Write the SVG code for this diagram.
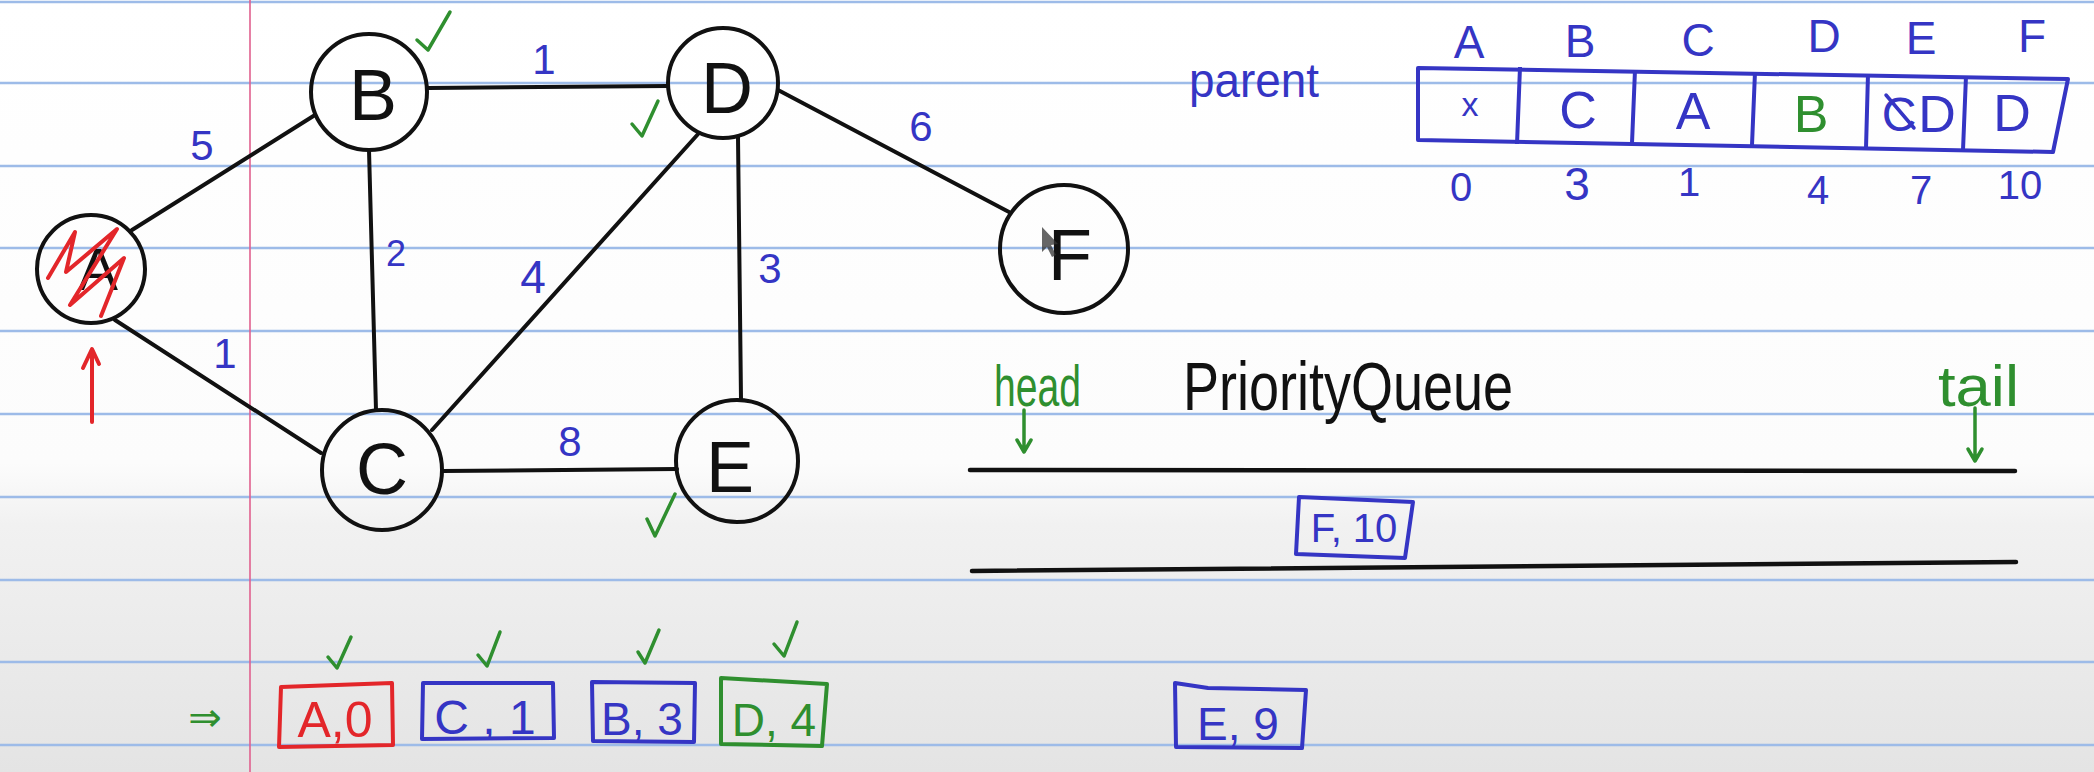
<svg xmlns="http://www.w3.org/2000/svg" width="2094" height="772" viewBox="0 0 2094 772">
  <defs>
    <linearGradient id="bg" x1="0" y1="0" x2="0" y2="1">
      <stop offset="0" stop-color="#ffffff"/>
      <stop offset="0.6" stop-color="#fcfcfc"/>
      <stop offset="0.68" stop-color="#f1f1f1"/>
      <stop offset="1" stop-color="#e4e4e4"/>
    </linearGradient>
    <style>
      .rule { stroke: #9dbbe8; stroke-width: 2.5; }
      .margin { stroke: #e0608e; stroke-width: 1.6; }
      .node { fill: none; stroke: #111; stroke-width: 4; }
      .edge { stroke: #111; stroke-width: 4; stroke-linecap: round; fill: none; }
      .nl { font-family: "Liberation Sans", "DejaVu Sans", sans-serif; fill: #111; text-anchor: middle; }
      .blue { fill: #3535c4; }
      .green { fill: #2f8f2f; }
      .red { fill: #e3262a; }
      .hand { font-family: "Liberation Sans", "DejaVu Sans", sans-serif; }
      .mid { text-anchor: middle; }
      .start { text-anchor: start; }
      .lbl { font-family: "Liberation Sans", "DejaVu Sans", sans-serif; fill: #3535c4; text-anchor: middle; }
      .chk { fill: none; stroke: #2f8f2f; stroke-width: 3.5; stroke-linecap: round; stroke-linejoin: round; }
      .bbox { fill: none; stroke: #3535c4; stroke-width: 4; stroke-linejoin: round; }
      .gbox { fill: none; stroke: #2f8f2f; stroke-width: 4; stroke-linejoin: round; }
      .rbox { fill: none; stroke: #e3262a; stroke-width: 4; stroke-linejoin: round; }
      .qline { stroke: #111; stroke-width: 4.5; stroke-linecap: round; }
      .garrow { fill: none; stroke: #2f8f2f; stroke-width: 3.5; stroke-linecap: round; stroke-linejoin: round; }
    </style>
  </defs>

  <!-- paper -->
  <rect x="0" y="0" width="2094" height="772" fill="url(#bg)"/>
  <g id="paper-rules">
    <line class="rule" x1="0" y1="2" x2="2094" y2="2"/>
    <line class="rule" x1="0" y1="83" x2="2094" y2="83"/>
    <line class="rule" x1="0" y1="166" x2="2094" y2="166"/>
    <line class="rule" x1="0" y1="248" x2="2094" y2="248"/>
    <line class="rule" x1="0" y1="331" x2="2094" y2="331"/>
    <line class="rule" x1="0" y1="414" x2="2094" y2="414"/>
    <line class="rule" x1="0" y1="497" x2="2094" y2="497"/>
    <line class="rule" x1="0" y1="580" x2="2094" y2="580"/>
    <line class="rule" x1="0" y1="662" x2="2094" y2="662"/>
    <line class="rule" x1="0" y1="745" x2="2094" y2="745"/>
    <line class="margin" x1="250" y1="0" x2="250" y2="772"/>
  </g>

  <!-- connectors -->
  <g id="connectors">
    <line class="edge" x1="132" y1="230" x2="315" y2="115"/>
    <line class="edge" x1="115" y1="320" x2="321" y2="453"/>
    <line class="edge" x1="369" y1="150" x2="376" y2="410"/>
    <line class="edge" x1="428" y1="88" x2="668" y2="86"/>
    <line class="edge" x1="432" y1="430" x2="699" y2="133"/>
    <line class="edge" x1="442" y1="471" x2="677" y2="469"/>
    <line class="edge" x1="738" y1="137" x2="741" y2="399"/>
    <line class="edge" x1="778" y1="90" x2="1009" y2="212"/>
  </g>
  <g id="edge-labels">
    <text class="lbl" x="202" y="160" font-size="42">5</text>
    <text class="lbl" x="544" y="74" font-size="42">1</text>
    <text class="lbl" x="396" y="266" font-size="36">2</text>
    <text class="lbl" x="533" y="293" font-size="46">4</text>
    <text class="lbl" x="225" y="368" font-size="42">1</text>
    <text class="lbl" x="570" y="456" font-size="42">8</text>
    <text class="lbl" x="921" y="141" font-size="42">6</text>
    <text class="lbl" x="770" y="283" font-size="42">3</text>
  </g>

  <!-- nodes -->
  <g id="node-A">
    <ellipse class="node" cx="91" cy="269" rx="54" ry="54"/>
    <text class="nl" x="98" y="290" font-size="60">A</text>
    <path d="M48 278 L75 232 L66 272 L117 229 L70 305 L124 258 L101 316" fill="none" stroke="#e3262a" stroke-width="4" stroke-linejoin="round" stroke-linecap="round"/>
    <path d="M92 422 L92 350 M83 368 L92 349 L99 364" fill="none" stroke="#e3262a" stroke-width="4" stroke-linecap="round" stroke-linejoin="round"/>
  </g>
  <g id="node-B">
    <circle class="node" cx="369" cy="92" r="58"/>
    <text class="nl" x="373" y="120" font-size="72">B</text>
    <path class="chk" d="M417 40 L428 50 L450 12"/>
  </g>
  <g id="node-C">
    <circle class="node" cx="382" cy="470" r="60"/>
    <text class="nl" x="382" y="494" font-size="72">C</text>
  </g>
  <g id="node-D">
    <circle class="node" cx="723" cy="83" r="55"/>
    <text class="nl" x="727" y="113" font-size="72">D</text>
    <path class="chk" d="M632 124 L642 136 L658 101"/>
  </g>
  <g id="node-E">
    <circle class="node" cx="737" cy="461" r="61"/>
    <text class="nl" x="730" y="492" font-size="72">E</text>
    <path class="chk" d="M647 519 L655 536 L675 494"/>
  </g>
  <g id="node-F">
    <circle class="node" cx="1064" cy="249" r="64"/>
    <text class="nl" x="1070" y="280" font-size="72">F</text>
    <path d="M1042 227 L1042 252 L1047 247 L1052 257 L1056 255 L1051 245 L1058 244 Z" fill="#333" fill-opacity="0.75"/>
  </g>

  <!-- parent array -->
  <g id="parent-array">
    <text class="hand blue start" x="1189" y="97" font-size="48" textLength="130" lengthAdjust="spacingAndGlyphs">parent</text>
    <g class="hand blue mid" font-size="46">
      <text x="1469" y="58">A</text>
      <text x="1580" y="57">B</text>
      <text x="1698" y="56">C</text>
      <text x="1824" y="52">D</text>
      <text x="1921" y="54">E</text>
      <text x="2032" y="52">F</text>
    </g>
    <path class="bbox" d="M1418 68 L2068 79 L2053 152 L1418 140 Z"/>
    <path class="bbox" d="M1520 67 L1517 144 M1635 70 L1632 143 M1755 72 L1752 145 M1868 74 L1866 148 M1966 76 L1963 150" fill="none"/>
    <text class="hand blue mid" x="1470" y="116" font-size="34">x</text>
    <text class="hand blue mid" x="1578" y="128" font-size="52">C</text>
    <text class="hand blue mid" x="1693" y="129" font-size="52">A</text>
    <text class="hand green mid" x="1811" y="132" font-size="52">B</text>
    <text class="hand blue mid" x="1899" y="131" font-size="48">C</text>
    <line x1="1886" y1="95" x2="1914" y2="128" stroke="#3535c4" stroke-width="3.5" stroke-linecap="round"/>
    <text class="hand blue mid" x="1937" y="132" font-size="52">D</text>
    <text class="hand blue mid" x="2012" y="131" font-size="52">D</text>
    <g class="hand blue mid" font-size="40">
      <text x="1461" y="201">0</text>
      <text x="1577" y="200" font-size="46">3</text>
      <text x="1689" y="196">1</text>
      <text x="1818" y="204">4</text>
      <text x="1921" y="204">7</text>
      <text x="2020" y="199">10</text>
    </g>
  </g>

  <!-- priority queue -->
  <g id="priority-queue">
    <text class="hand start" x="1183" y="410" font-size="68" fill="#111" textLength="330" lengthAdjust="spacingAndGlyphs">PriorityQueue</text>
    <text class="hand green start" x="994" y="406" font-size="58" textLength="87" lengthAdjust="spacingAndGlyphs">head</text>
    <path class="garrow" d="M1024 410 L1024 452 M1017 440 L1024 452 L1031 440"/>
    <text class="hand green start" x="1938" y="406" font-size="58" textLength="81" lengthAdjust="spacingAndGlyphs">tail</text>
    <path class="garrow" d="M1975 408 L1975 461 M1968 449 L1975 461 L1982 449"/>
    <line class="qline" x1="970" y1="470" x2="2015" y2="471"/>
    <line class="qline" x1="972" y1="571" x2="2016" y2="562"/>
    <g id="pq-F10">
      <path class="bbox" d="M1299 497 L1413 502 L1405 558 L1296 554 Z"/>
      <text class="hand blue mid" x="1354" y="542" font-size="40">F, 10</text>
    </g>
  </g>

  <!-- visited sequence -->
  <g id="visited-list">
    <text class="hand green mid" x="205" y="731" font-size="40">⇒</text>
    <g id="item-A0">
      <path class="rbox" d="M281 687 L392 683 L393 745 L279 747 Z"/>
      <text class="hand red mid" x="335" y="737" font-size="50">A,0</text>
      <path class="chk" d="M328 657 L337 668 L351 637"/>
    </g>
    <g id="item-C1">
      <path class="bbox" d="M423 683 L553 683 L554 738 L422 739 Z"/>
      <text class="hand blue mid" x="485" y="734" font-size="48">C , 1</text>
      <path class="chk" d="M478 655 L487 666 L500 632"/>
    </g>
    <g id="item-B3">
      <path class="bbox" d="M592 682 L695 683 L694 742 L593 741 Z"/>
      <text class="hand blue mid" x="642" y="735" font-size="46">B, 3</text>
      <path class="chk" d="M638 652 L645 663 L659 630"/>
    </g>
    <g id="item-D4">
      <path class="gbox" d="M721 678 L827 684 L822 746 L721 744 Z"/>
      <text class="hand green mid" x="774" y="736" font-size="46">D, 4</text>
      <path class="chk" d="M774 644 L784 656 L797 622"/>
    </g>
  </g>

  <g id="pq-E9">
    <path class="bbox" d="M1175 683 L1208 688 L1306 690 L1302 748 L1176 747 Z"/>
    <text class="hand blue mid" x="1238" y="740" font-size="46">E, 9</text>
  </g>
</svg>
